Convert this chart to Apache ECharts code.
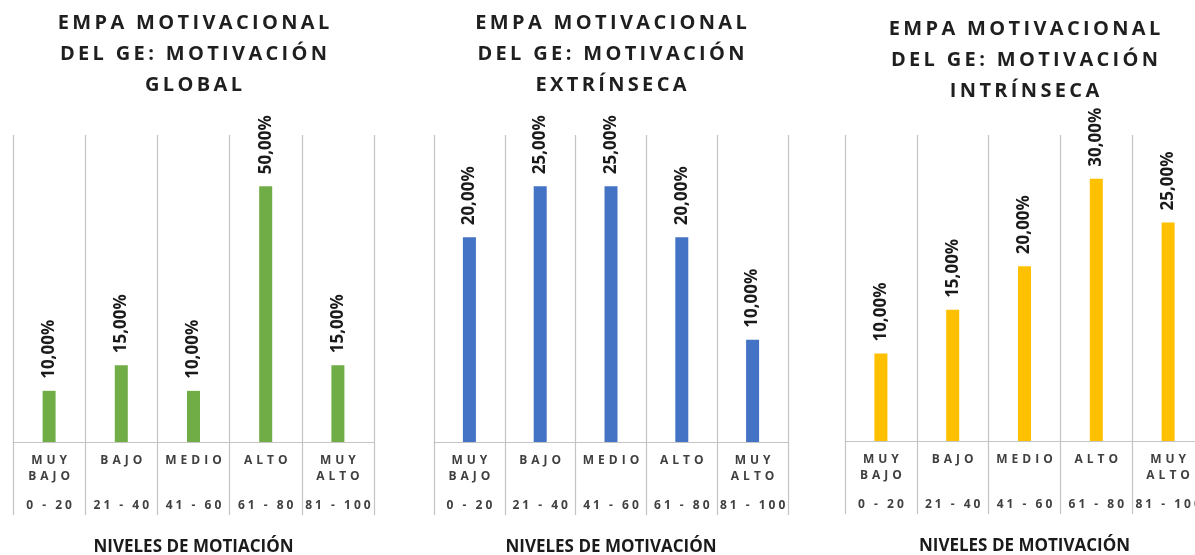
<!DOCTYPE html>
<html>
<head>
<meta charset="utf-8">
<script src="https://cdn.jsdelivr.net/npm/echarts@6/dist/echarts.min.js"></script>
<style>
  html, body { margin: 0; padding: 0; background: #fff; }
  #chart { width: 1195px; height: 555px; }
</style>
</head>
<body>
<div id="chart"></div>
<script>
// datos (porcentajes)
const niveles = ['MUY\nBAJO', 'BAJO', 'MEDIO', 'ALTO', 'MUY\nALTO'];
const rangos = ['0 - 20', '21 - 40', '41 - 60', '61 - 80', '81 - 100'];
const global = [10, 15, 10, 50, 15];
const extrinseca = [20, 25, 25, 20, 10];
const intrinseca = [10, 15, 20, 30, 25];
const titulos = [
  'EMPA MOTIVACIONAL\nDEL GE: MOTIVACIÓN\nGLOBAL',
  'EMPA MOTIVACIONAL\nDEL GE: MOTIVACIÓN\nEXTRÍNSECA',
  'EMPA MOTIVACIONAL\nDEL GE: MOTIVACIÓN\nINTRÍNSECA'
];
const nombresEje = ['NIVELES DE MOTIACIÓN', 'NIVELES DE MOTIVACIÓN', 'NIVELES DE MOTIVACIÓN'];
const maximos = [60, 30, 35];

const series = [global, extrinseca, intrinseca];
const colores = ['#70AD47', '#4472C4', '#FFC000'];
const grids = [
  { left: 13, width: 361, top: 135, height: 307, outerBoundsMode: 'none' },
  { left: 434, width: 354, top: 135, height: 307, outerBoundsMode: 'none' },
  { left: 845, width: 359, top: 135, height: 306, outerBoundsMode: 'none' }
];
const titleTops = [8, 8, 14];
const font = "'Open Sans', 'Noto Sans', sans-serif";

// Excel-like character spacing
function spaced (s, gap) {
  return s.split('\n').map(l => Array.from(l).join(gap)).join('\n');
}

const chart = echarts.init(document.getElementById('chart'));

const option = {
  animation: false,
  title: [],
  grid: [],
  xAxis: [],
  yAxis: [],
  series: []
};

for (let i = 0; i < 3; i++) {
  const g = grids[i];
  option.grid.push(g);
  option.title.push({
    text: spaced(titulos[i], '\u2006'),
    left: g.left + g.width / 2,
    top: titleTops[i],
    textAlign: 'center',
    padding: 0,
    textStyle: {
      fontFamily: font,
      fontSize: 20,
      fontWeight: 'bold',
      lineHeight: 31,
      color: '#1f1f1f'
    }
  });
  option.xAxis.push({
    type: 'category',
    gridIndex: i,
    data: niveles,
    axisLine: { lineStyle: { color: '#c4c4c4', width: 1.2 } },
    axisTick: { show: true, length: 73, interval: 0, lineStyle: { color: '#c4c4c4', width: 1.2 } },
    splitLine: { show: true, interval: 0, lineStyle: { color: '#c4c4c4', width: 1.2 } },
    axisLabel: {
      interval: 0,
      margin: 11,
      formatter: function (value, idx) {
        const lines = value.split('\n').map(l => '{a|' + spaced(l, '\u2004') + '}');
        if (lines.length < 2) lines.push('{a| }');
        return lines.join('\n') + '\n{b|' + spaced(rangos[idx], '\u2005') + '}';
      },
      rich: {
        a: { fontFamily: font, fontSize: 12, fontWeight: 'bold', color: '#404040', lineHeight: 16, align: 'center' },
        b: { fontFamily: font, fontSize: 12, fontWeight: 'bold', color: '#404040', lineHeight: 41, align: 'center' }
      }
    },
    name: nombresEje[i],
    nameLocation: 'middle',
    nameGap: 97,
    nameTextStyle: {
      fontFamily: font,
      fontSize: 17,
      fontWeight: 'bold',
      color: '#1a1a1a'
    }
  });
  option.yAxis.push({
    type: 'value',
    gridIndex: i,
    min: 0,
    max: maximos[i],
    show: false,
    splitLine: { show: false }
  });
  option.series.push({
    type: 'bar',
    xAxisIndex: i,
    yAxisIndex: i,
    data: series[i],
    barWidth: 13,
    itemStyle: { color: colores[i] },
    label: {
      show: true,
      position: 'top',
      rotate: 90,
      distance: 12,
      align: 'left',
      verticalAlign: 'middle',
      fontFamily: font,
      fontSize: 17,
      fontWeight: 'bold',
      color: '#1a1a1a',
      formatter: p => p.value.toFixed(2).replace('.', ',') + '%'
    }
  });
}

chart.setOption(option);
</script>
</body>
</html>
